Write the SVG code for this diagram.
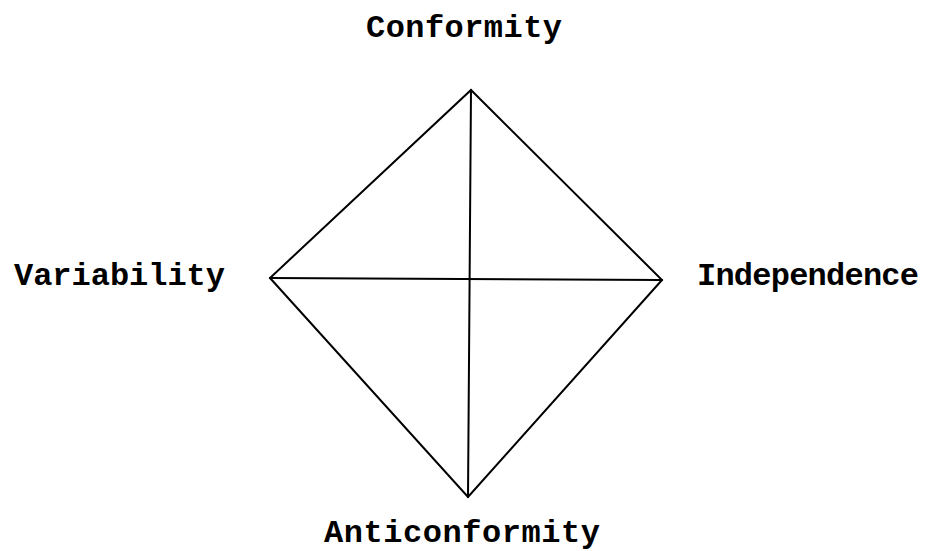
<svg xmlns="http://www.w3.org/2000/svg" width="934" height="551" viewBox="0 0 934 551">
<style>
.lbl{font-family:"Liberation Mono","Courier New",monospace;font-weight:bold;font-size:32px;fill:#000}
.ln{stroke:#000;stroke-width:2;fill:none;stroke-linecap:round}
</style>
<rect width="934" height="551" fill="#fff"/>
<g id="connectors">
<polygon class="ln" points="471,90 662,280 468,497 270,278" stroke-linejoin="miter"/>
<line class="ln" x1="471" y1="90" x2="468" y2="497"/>
<line class="ln" x1="270" y1="278" x2="662" y2="280"/>
</g>
<g id="conformity"><text class="lbl" x="366" y="37" textLength="196" lengthAdjust="spacing">Conformity</text></g>
<g id="variability"><text class="lbl" x="14" y="285" textLength="211" lengthAdjust="spacing">Variability</text></g>
<g id="independence"><text class="lbl" x="697" y="285" textLength="222" lengthAdjust="spacing">Independence</text></g>
<g id="anticonformity"><text class="lbl" x="324" y="542" textLength="276" lengthAdjust="spacing">Anticonformity</text></g>
</svg>
